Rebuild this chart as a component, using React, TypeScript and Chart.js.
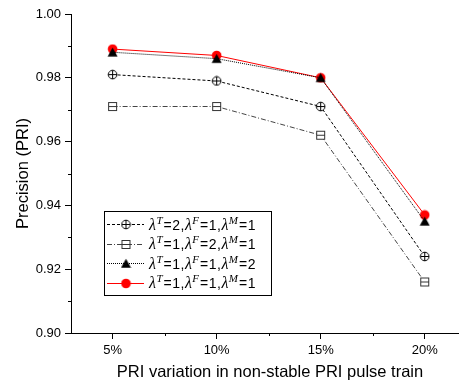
import React, { useEffect, useRef } from "react";
import { Chart, registerables } from "chart.js";

Chart.register(...registerables);

// PRI variation levels (%) and precision per parameter setting
const variations = [5, 10, 15, 20];
const precT2 = [0.981, 0.979, 0.971, 0.924];
const precF2 = [0.971, 0.971, 0.962, 0.916];
const precM2 = [0.988, 0.986, 0.98, 0.935];
const precAll1 = [0.989, 0.987, 0.98, 0.937];

const yMinorTicks = [0.91, 0.93, 0.95, 0.97, 0.99];
const xMinorTicks = [7.5, 12.5, 17.5];

const xTitle = "PRI variation in non-stable PRI pulse train";
const yTitle = "Precision (PRI)";

// legend entries: [T, F, M] exponents
const legendParams = [
  ["2", "1", "1"],
  ["1", "2", "1"],
  ["1", "1", "2"],
  ["1", "1", "1"],
];

const SANS = "'Liberation Sans', Arial, sans-serif";
const SERIF = "'Liberation Serif', 'Times New Roman', serif";

function makeMarker(draw: (ctx: CanvasRenderingContext2D) => void, size = 11) {
  const c = document.createElement("canvas");
  c.width = size;
  c.height = size;
  const ctx = c.getContext("2d")!;
  draw(ctx);
  return c;
}

export default function App() {
  const ref = useRef<HTMLCanvasElement | null>(null);

  useEffect(() => {
    if (!ref.current) return;

    const circlePlus = makeMarker((ctx) => {
      ctx.fillStyle = "#fff";
      ctx.strokeStyle = "#000";
      ctx.lineWidth = 1;
      ctx.beginPath();
      ctx.arc(5.5, 5.5, 4.3, 0, Math.PI * 2);
      ctx.fill();
      ctx.stroke();
      ctx.beginPath();
      ctx.moveTo(1.2, 5.5);
      ctx.lineTo(9.8, 5.5);
      ctx.moveTo(5.5, 1.2);
      ctx.lineTo(5.5, 9.8);
      ctx.stroke();
    });
    const squareBar = makeMarker((ctx) => {
      ctx.fillStyle = "#fff";
      ctx.strokeStyle = "#333";
      ctx.lineWidth = 1;
      ctx.fillRect(1.5, 1.5, 8, 8);
      ctx.strokeRect(1.5, 1.5, 8, 8);
      ctx.beginPath();
      ctx.moveTo(1.5, 5.5);
      ctx.lineTo(9.5, 5.5);
      ctx.stroke();
    });
    const triangle = makeMarker((ctx) => {
      ctx.fillStyle = "#000";
      ctx.beginPath();
      ctx.moveTo(5.5, 0.8);
      ctx.lineTo(10.5, 9.8);
      ctx.lineTo(0.5, 9.8);
      ctx.closePath();
      ctx.fill();
    });
    const redDot = makeMarker((ctx) => {
      ctx.fillStyle = "#ff0000";
      ctx.beginPath();
      ctx.arc(5.5, 5.5, 4.8, 0, Math.PI * 2);
      ctx.fill();
    });

    const toPts = (vals: number[]) => variations.map((x, i) => ({ x, y: vals[i] }));

    const series = [
      { data: precT2, color: "#000", dash: [3, 2], marker: circlePlus },
      { data: precF2, color: "#444", dash: [5, 2, 1, 2], marker: squareBar },
      { data: precM2, color: "#000", dash: [1, 1], marker: triangle },
      { data: precAll1, color: "#ff0000", dash: [] as number[], marker: redDot },
    ];

    // draws a string one glyph at a time with extra tracking, returns new x
    const spaced = (ctx: CanvasRenderingContext2D, s: string, x: number, y: number, track: number) => {
      for (const ch of s) {
        ctx.fillText(ch, x, y);
        x += ctx.measureText(ch).width + track;
      }
      return x;
    };

    const decorations = {
      id: "decorations",
      afterDraw(chart: any) {
        const ctx: CanvasRenderingContext2D = chart.ctx;
        const xs = chart.scales.x;
        const ys = chart.scales.y;
        const area = chart.chartArea;
        ctx.save();
        // minor ticks
        ctx.strokeStyle = "#000";
        ctx.lineWidth = 1;
        ctx.beginPath();
        for (const v of yMinorTicks) {
          const y = Math.round(ys.getPixelForValue(v)) + 0.5;
          ctx.moveTo(area.left - 3, y);
          ctx.lineTo(area.left, y);
        }
        for (const v of xMinorTicks) {
          const x = Math.round(xs.getPixelForValue(v)) + 0.5;
          ctx.moveTo(x, area.bottom);
          ctx.lineTo(x, area.bottom + 3);
        }
        ctx.stroke();

        // axis titles
        ctx.fillStyle = "#000";
        ctx.font = `16.5px ${SANS}`;
        ctx.textAlign = "center";
        ctx.textBaseline = "alphabetic";
        ctx.fillText(xTitle, 270, 377);
        ctx.save();
        ctx.translate(28, (area.top + area.bottom) / 2);
        ctx.rotate(-Math.PI / 2);
        ctx.fillText(yTitle, 0, 0);
        ctx.restore();

        // legend box
        const bx = 104.5, by = 211.5, bw = 167, bh = 84;
        ctx.fillStyle = "#fff";
        ctx.fillRect(bx, by, bw, bh);
        ctx.strokeStyle = "#000";
        ctx.lineWidth = 1;
        ctx.strokeRect(bx, by, bw, bh);
        const rows = [224, 243.5, 263, 282.5];
        series.forEach((s, i) => {
          const y = Math.round(rows[i]) + 0.5;
          ctx.strokeStyle = s.color;
          ctx.setLineDash(s.dash);
          ctx.beginPath();
          ctx.moveTo(107, y);
          ctx.lineTo(144, y);
          ctx.stroke();
          ctx.setLineDash([]);
          ctx.drawImage(s.marker, 126 - s.marker.width / 2, y - s.marker.height / 2);
          // label: λ^T=a,λ^F=b,λ^M=c
          const [t, f, m] = legendParams[i];
          const groups: [string, string][] = [
            ["T", `=${t},`],
            ["F", `=${f},`],
            ["M", `=${m}`],
          ];
          let x = 149;
          ctx.fillStyle = "#000";
          ctx.textAlign = "left";
          ctx.textBaseline = "alphabetic";
          const base = rows[i] + 5.5;
          for (const [sup, rest] of groups) {
            ctx.font = `italic 16px ${SERIF}`;
            ctx.fillText("λ", x, base);
            x += ctx.measureText("λ").width + 0.5;
            ctx.font = `italic 11px ${SERIF}`;
            ctx.fillText(sup, x, base - 6);
            x += ctx.measureText(sup).width + 1;
            ctx.font = `14px ${SANS}`;
            x = spaced(ctx, rest, x, base, 0.5);
          }
        });
        ctx.restore();
      },
    };

    const chart = new Chart(ref.current, {
      type: "line",
      data: {
        datasets: series.map((s, i) => ({
          label: `s${i}`,
          data: toPts(s.data),
          borderColor: s.color,
          borderWidth: 1,
          borderDash: s.dash,
          pointStyle: s.marker as any,
          pointRadius: 5,
          fill: false,
          tension: 0,
        })),
      },
      options: {
        responsive: false,
        animation: false,
        devicePixelRatio: 1,
        layout: { autoPadding: false, padding: { top: 14, right: 1, left: 0, bottom: 0 } },
        plugins: { legend: { display: false }, tooltip: { enabled: false } },
        scales: {
          x: {
            type: "linear",
            min: 3,
            max: 21.6,
            afterFit: (s: any) => {
              s.height = 51;
              s.paddingLeft = 0;
              s.paddingRight = 0;
            },
            afterBuildTicks: (s: any) => {
              s.ticks = variations.map((v) => ({ value: v }));
            },
            grid: { display: true, drawOnChartArea: false, drawTicks: true, tickLength: 6, color: "#000" },
            border: { display: true, color: "#000", width: 1 },
            ticks: {
              color: "#000",
              font: { family: SANS, size: 13 },
              padding: 4,
              maxRotation: 0,
              callback: (v: any) => `${v}%`,
            },
          },
          y: {
            type: "linear",
            min: 0.9,
            max: 1.0,
            afterFit: (s: any) => {
              s.width = 71;
              s.paddingTop = 0;
              s.paddingBottom = 0;
            },
            grid: { display: true, drawOnChartArea: false, drawTicks: true, tickLength: 6, color: "#000" },
            border: { display: true, color: "#000", width: 1 },
            ticks: {
              stepSize: 0.02,
              color: "#000",
              font: { family: SANS, size: 13 },
              padding: 4,
              callback: (v: any) => Number(v).toFixed(2),
            },
          },
        },
      },
      plugins: [decorations],
    });

    return () => chart.destroy();
  }, []);

  return (
    <div style={{ position: "absolute", left: 0, top: 0, width: 459, height: 384, background: "#fff" }}>
      <canvas ref={ref} width={459} height={384} />
    </div>
  );
}
